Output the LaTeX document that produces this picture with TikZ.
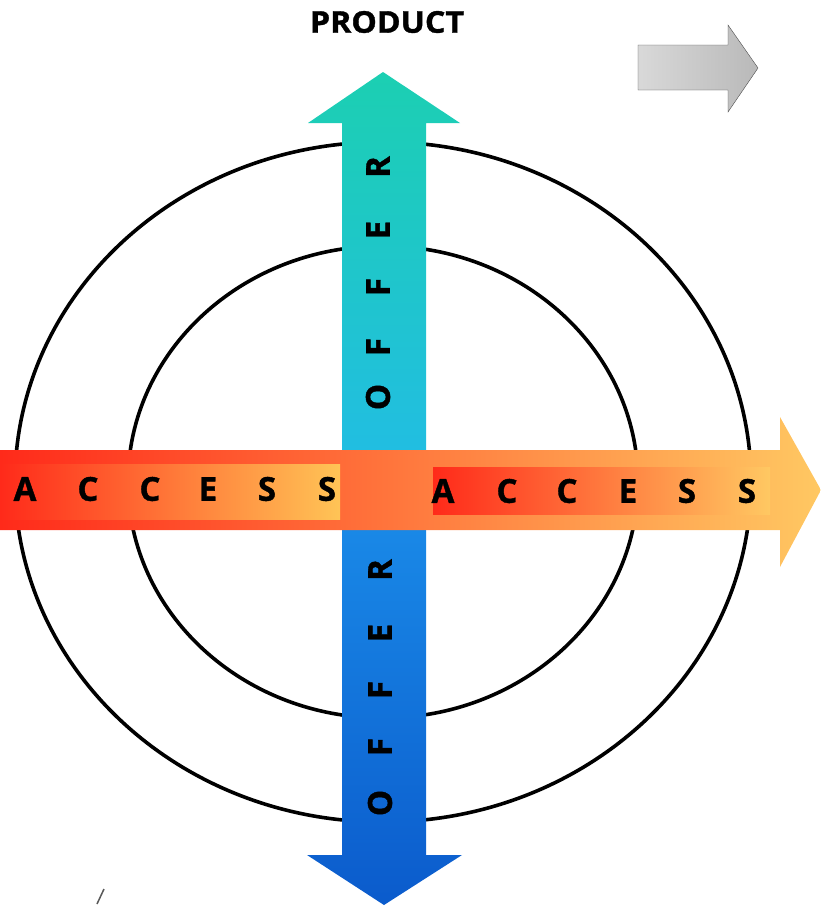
\documentclass[tikz,border=0pt]{standalone}
\usepackage{fontspec}
\newfontfamily\lblfont{Open Sans}[BoldFeatures={FakeBold=1.2}]
\definecolor{offtop}{HTML}{1CCFB2}
\definecolor{offmid}{HTML}{22BCE6}
\definecolor{offlow}{HTML}{1B8EEA}
\definecolor{offbot}{HTML}{0B5BCC}
\definecolor{accred}{HTML}{FF2A1A}
\definecolor{accmid}{HTML}{FF9748}
\definecolor{accend}{HTML}{FFC862}
\definecolor{bandend}{HTML}{FFC456}
\tikzset{
  ring/.style={line width=3.6pt},
  letter/.style={font=\lblfont\bfseries\fontsize{33}{33}\selectfont, inner sep=0pt},
  title/.style={font=\lblfont\bfseries\fontsize{30}{30}\selectfont, inner sep=0pt, xscale=1.07},
}
\begin{document}
\begin{tikzpicture}[x=1pt,y=-1pt]
    \useasboundingbox (0,0) rectangle (821,906);
    % Rings
    \draw[ring] (383,482) ellipse [x radius=368, y radius=340];
    \draw[ring] (383,482) ellipse [x radius=255, y radius=236];
    % Offer arrow, up and down
    \shade[top color=offtop, bottom color=offmid] (342,490) -- (342,123) -- (308,123) -- (383,72)
        -- (460,123) -- (426,123) -- (426,490) -- cycle;
    \shade[top color=offlow, bottom color=offbot] (342,480) -- (342,855) -- (307,855) -- (384,905)
        -- (462,855) -- (426,855) -- (426,480) -- cycle;
    % Access arrow
    \shade[left color=accred, middle color=accmid, right color=accend] (0,450) -- (780,450)
        -- (780,417) -- (821,490) -- (780,567) -- (780,530) -- (0,530) -- cycle;
    \shade[left color=accred, right color=bandend] (0,464) rectangle (340,519);
    \shade[left color=accred, middle color=accmid, right color=accend] (433,467) rectangle (770,514);
    % Letters
    \foreach \ch/\xl/\xr [count=\i] in {A/25/443, C/88/507, C/150/567, E/208/628, S/267/687, S/327/747} {
        \node[letter] (la\i) at (\xl,489) {\ch};
        \node[letter] (ra\i) at (\xr,491) {\ch};
    }
    \foreach \ch/\yt/\yb [count=\i] in {O/397/803, F/347/747, F/287/690, E/230/633, R/167/570} {
        \node[letter, rotate=90] (to\i) at (378,\yt) {\ch};
        \node[letter, rotate=90] (bo\i) at (380,\yb) {\ch};
    }
    \node[title] (product) at (387,22) {PRODUCT};
    % Grey arrow top right
    \shade[left color=gray!30, middle color=gray!5, right color=gray!55, draw=gray!60!black]
        (638,45) -- (728,45) -- (728,25) -- (758,68) -- (728,112) -- (728,90) -- (638,90) -- cycle;
    \draw[line width=1.5pt, gray!70!black] (97,904) -- (104,889);
\end{tikzpicture}
\end{document}
